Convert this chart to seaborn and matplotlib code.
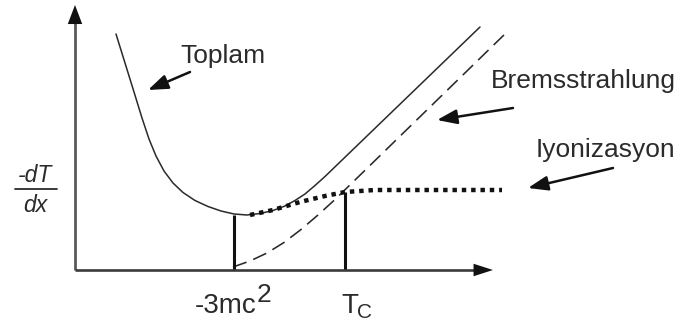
import matplotlib
matplotlib.use("Agg")
import matplotlib.pyplot as plt
import pandas as pd
import seaborn as sns

# Energy-loss schematic: total, bremsstrahlung and ionization curves
toplam_x = [41, 50, 59, 67, 74, 81, 89, 98, 108, 120, 133, 146, 159, 172,
            185, 198, 210, 220, 230, 240, 250, 405]
toplam_y = [236, 207, 178, 152, 131, 114, 99, 87, 77.5, 69.5, 63.5, 59, 56, 55,
            56.5, 59.5, 64, 69.5, 76, 84.5, 93.5, 243]

brems_x = [158, 175, 192, 209, 226, 243, 260, 432]
brems_y = [3, 9, 17, 27.5, 40.5, 55, 70.5, 238]

iyon_x = [175, 198, 225, 250, 270, 300, 350, 427]
iyon_y = [55, 60, 68, 74, 78, 80, 80, 80]

# Markers at the minimum (-3mc^2) and the critical energy T_C
marker_x = [159, 270]
marker_h = [55, 78]

series_labels = ["Toplam", "Bremsstrahlung", "Iyonizasyon"]

sns.set_theme(style="white")
plt.rcParams["font.family"] = ["Liberation Sans", "DejaVu Sans"]

fig = plt.figure(figsize=(6.86, 3.27), dpi=100)
ax = fig.add_axes([0, 0, 1, 1])
ax.set_xlim(-75, 611)
ax.set_ylim(-57, 270)
ax.axis("off")

df_t = pd.DataFrame({"x": toplam_x, "y": toplam_y})
df_b = pd.DataFrame({"x": brems_x, "y": brems_y})
df_i = pd.DataFrame({"x": iyon_x, "y": iyon_y})

sns.lineplot(data=df_t, x="x", y="y", ax=ax, color="#2a2a2a", lw=1.1, sort=False)
sns.lineplot(data=df_b, x="x", y="y", ax=ax, color="#2a2a2a", lw=1.15, sort=False,
             linestyle=(0, (9, 4.5)))
sns.lineplot(data=df_i, x="x", y="y", ax=ax, color="#111111", lw=3.2, sort=False,
             linestyle=(0, (1, 1.1)), dash_capstyle="butt")

ax.vlines(marker_x, 0, marker_h, color="#111111", lw=2.2)

# Axes drawn as arrows
axis_col = "#5a5a5a"
ax.plot([0, 0], [0, 255], color=axis_col, lw=2.0, solid_capstyle="butt")
ax.plot([0, 408], [0, 0], color="#3a3a3a", lw=1.9, solid_capstyle="butt")
ax.annotate("", xy=(0, 265), xytext=(0, 240),
            arrowprops=dict(arrowstyle="-|>,head_length=1.37,head_width=0.52",
                            mutation_scale=10, color="#111111", lw=0,
                            shrinkA=0, shrinkB=0))
ax.annotate("", xy=(418, 0), xytext=(393, 0),
            arrowprops=dict(arrowstyle="-|>,head_length=1.4,head_width=0.45",
                            mutation_scale=10, color="#111111", lw=0,
                            shrinkA=0, shrinkB=0))

txt_col = "#2b2b2b"
fs = 19

# Series labels with pointer arrows
label_pos = [(105, 207), (416, 182), (461, 113)]
arrow_tail = [(115, 198), (438, 162), (538, 102)]
arrow_tip = [(73, 180), (362, 150), (453, 82)]
for lab, (tx, ty), tail, tip in zip(series_labels, label_pos, arrow_tail, arrow_tip):
    ax.text(tx, ty, lab, fontsize=fs, color=txt_col, ha="left", va="baseline")
    ax.annotate("", xy=tip, xytext=tail,
                arrowprops=dict(arrowstyle="-|>,head_length=0.6,head_width=0.22",
                                mutation_scale=20, color="#111111", lw=1.8,
                                shrinkA=0, shrinkB=0))

# Axis labels
ax.text(120, -43, "-3mc", fontsize=20, color=txt_col, ha="left", va="baseline")
ax.text(182, -32, "2", fontsize=19, color=txt_col, ha="left", va="baseline")
ax.text(266, -43, "T", fontsize=20, color=txt_col, ha="left", va="baseline")
ax.text(282, -48, "C", fontsize=15, color=txt_col, ha="left", va="baseline")

ax.text(-40, 88, "-dT", fontsize=16.5, style="italic", color=txt_col,
        ha="center", va="baseline")
ax.plot([-60, -18], [81, 81], color=txt_col, lw=1.3)
ax.text(-40, 58, "dx", fontsize=16.5, style="italic", color=txt_col,
        ha="center", va="baseline")

fig.savefig("out.png", dpi=100)
